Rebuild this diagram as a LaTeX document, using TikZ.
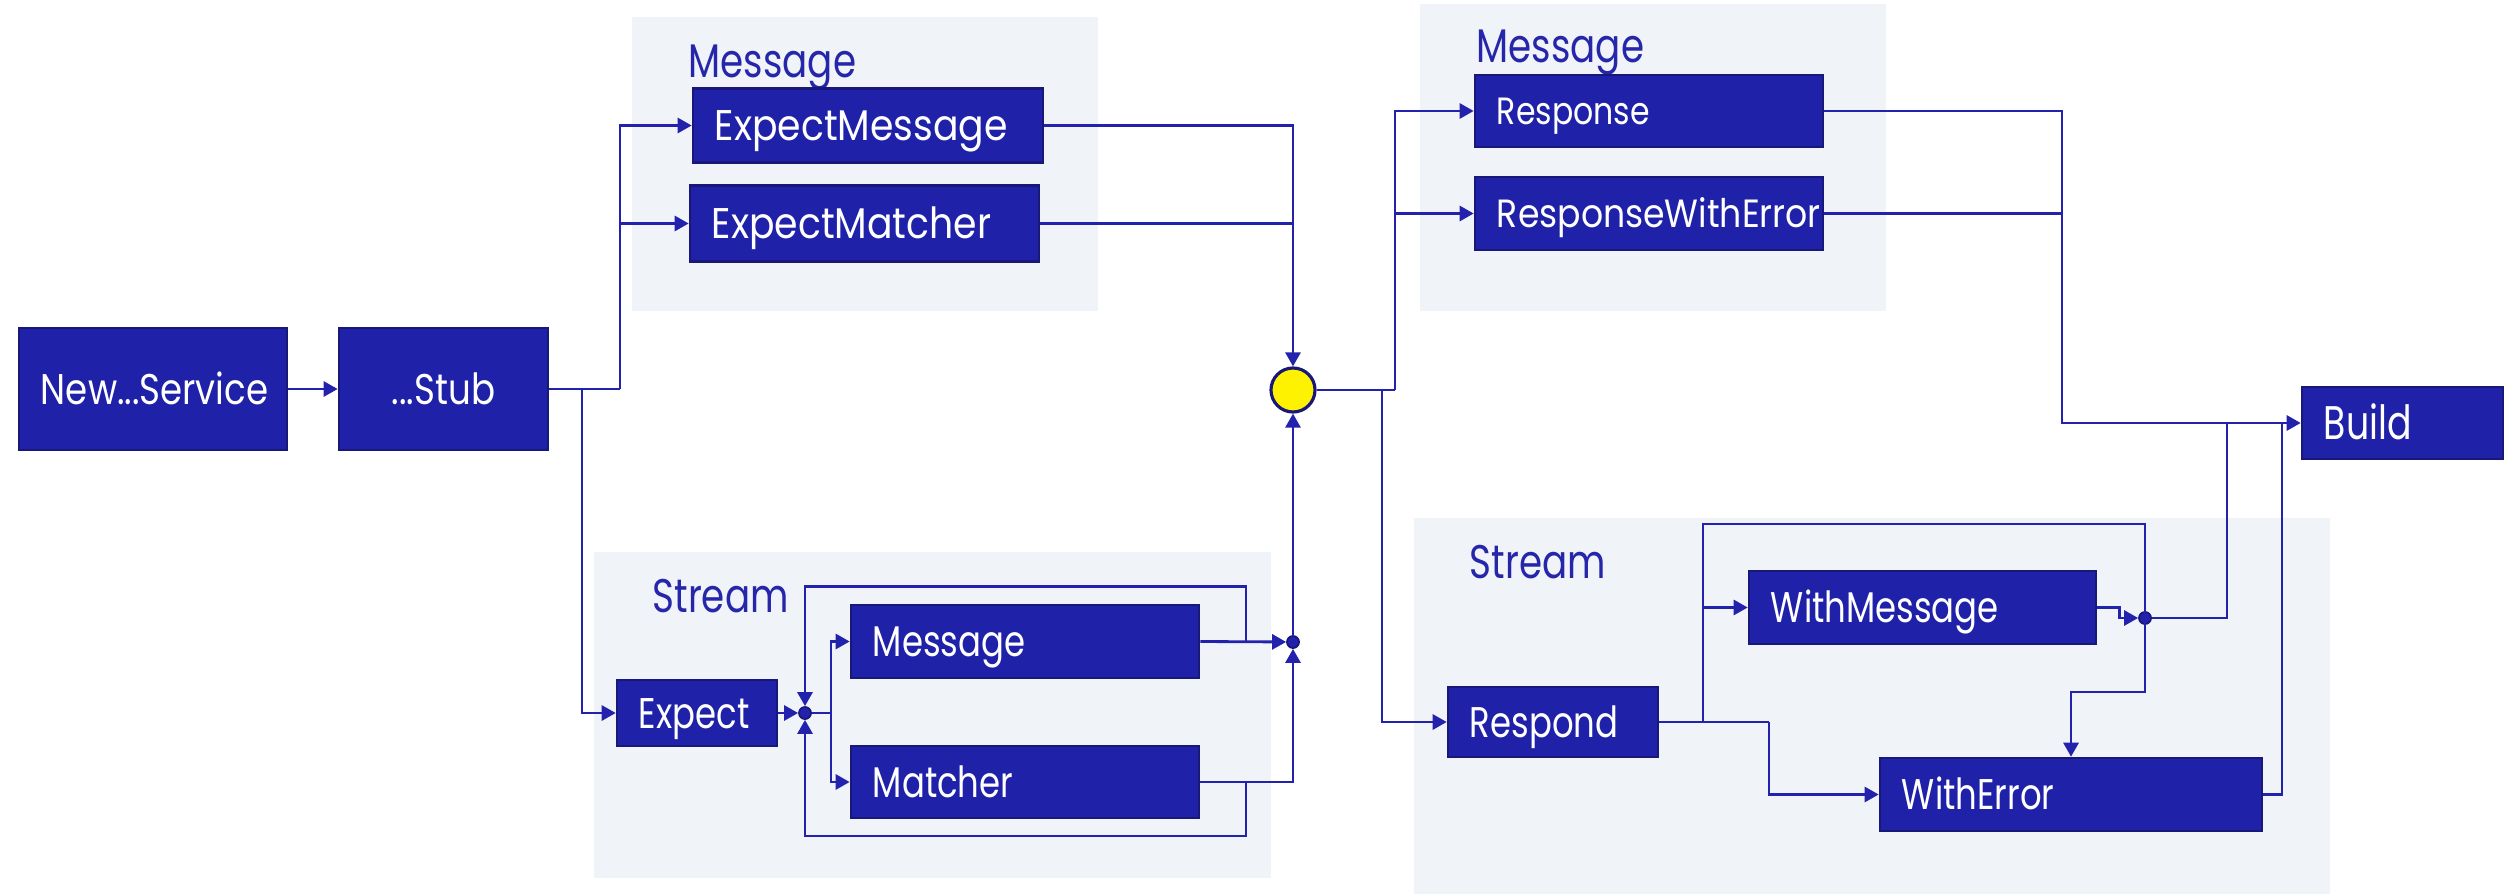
\documentclass[tikz,border=0pt]{standalone}
\usepackage{fontspec}
\usetikzlibrary{arrows.meta,calc}
\newfontfamily\geofont[FakeStretch=0.88]{Poppins}
\newfontfamily\geomid[FakeStretch=0.83]{Poppins}
\newfontfamily\geonarrow[FakeStretch=0.79]{Poppins}
\newfontfamily\geotight[FakeStretch=0.77]{Poppins}

\definecolor{boxfill}{RGB}{31,33,169}
\definecolor{boxline}{RGB}{24,24,120}
\definecolor{linecol}{RGB}{34,34,172}
\definecolor{labcol}{RGB}{38,38,170}
\definecolor{panel}{RGB}{240,243,247}

\tikzset{
  box/.style={draw=boxline, fill=boxfill, line width=0.7pt, text=white,
    font=\geonarrow\fontsize{12.2}{14}\selectfont, inner xsep=0.22cm, inner ysep=0pt,
    text height=0.30cm, text depth=0pt, align=left},
  cbox/.style={box, align=center, font=\geomid\fontsize{12.2}{14}\selectfont},
  grp/.style={fill=panel, draw=none},
  grplabel/.style={text=labcol, font=\geonarrow\fontsize{13.4}{15}\selectfont, anchor=base west, inner sep=0pt},
  conn/.style={draw=linecol, line width=0.8pt},
  flow/.style={conn, -{Triangle[length=0.14cm,width=0.15cm]}},
  joint/.style={circle, fill=linecol, draw=boxline, line width=0.5pt, minimum size=0.12cm, inner sep=0pt},
  hubstyle/.style={circle, fill=yellow, draw=boxline, line width=0.9pt, minimum size=0.44cm, inner sep=0pt},
}

\begin{document}
\begin{tikzpicture}[x=0.01cm,y=-0.01cm]
\useasboundingbox (0,0) rectangle (2509,894);

% group panels
\fill[grp] (632,17) rectangle (1098,311);
\fill[grp] (594,552) rectangle (1271,878);
\fill[grp] (1420,4) rectangle (1886,311);
\fill[grp] (1414,518) rectangle (2330,894);

\node[grplabel] (lblmsgA) at (688,78) {Message};
\node[grplabel] (lblstrA) at (652,612) {Stream};
\node[grplabel] (lblmsgB) at (1476,63) {Message};
\node[grplabel] (lblstrB) at (1469,578) {Stream};

% boxes
\node[cbox, text width=2.24cm, minimum height=1.22cm] (svc) at (153,389) {New...Service};
\node[cbox, text width=1.65cm, minimum height=1.22cm] (stub) at (443.5,389) {...Stub};
\node[box, text width=3.06cm, minimum height=0.74cm, font=\geofont\fontsize{12.2}{14}\selectfont] (expmsg) at (868,125.5) {ExpectMessage};
\node[box, text width=3.05cm, minimum height=0.76cm, font=\geofont\fontsize{12.2}{14}\selectfont] (expmat) at (864.5,223.5) {ExpectMatcher};
\node[box, text width=1.16cm, minimum height=0.66cm] (expect) at (697,713) {Expect};
\node[box, text width=3.04cm, minimum height=0.73cm] (smsg) at (1025,641.5) {Message};
\node[box, text width=3.04cm, minimum height=0.72cm] (smat) at (1025,782) {Matcher};
\node[box, text width=3.04cm, minimum height=0.72cm, font=\geomid\fontsize{10.8}{13}\selectfont, text height=0.27cm] (resp) at (1649,111) {Response};
\node[box, text width=3.04cm, minimum height=0.73cm, font=\geofont\fontsize{11.2}{13}\selectfont, text height=0.28cm] (resperr) at (1649,213.5) {ResponseWithError};
\node[box, text width=1.66cm, minimum height=0.70cm] (respond) at (1553,722) {Respond};
\node[box, text width=3.03cm, minimum height=0.73cm] (withmsg) at (1922.5,607.5) {WithMessage};
\node[box, text width=3.38cm, minimum height=0.73cm] (witherr) at (2071,794.5) {WithError};
\node[box, text width=1.57cm, minimum height=0.72cm, font=\geotight\fontsize{13.4}{15}\selectfont, text height=0.33cm] (build) at (2402.5,423) {Build};

% junctions
\node[hubstyle] (hub) at (1293,390) {};
\node[joint] (dotA) at (805,713) {};
\node[joint] (dotB) at (1293,642) {};
\node[joint] (dotC) at (2145,618) {};

% branch points
\coordinate (sUp) at (620,389);
\coordinate (sDn) at (582,389);
\coordinate (split) at (831,713);
\coordinate (loopT) at (1246,641.5);
\coordinate (loopB) at (1246,782);
\coordinate (hUp) at (1395,390);
\coordinate (hDn) at (1382,390);
\coordinate (bA) at (2062,423);
\coordinate (bB) at (2227,423);
\coordinate (bC) at (2282,423);
\coordinate (rA) at (1703,722);
\coordinate (rB) at (1769,722);
\coordinate (tA) at (2145,524);
\coordinate (tB) at (2145,692);

% left part
\draw[flow] (svc) -- (stub);
\draw[conn] (stub.east) -- (sUp);
\draw[flow] (sUp) |- (expmsg.west);
\draw[flow] (sUp) |- (expmat.west);
\draw[flow] (sDn) |- (expect.west);

% stream loop on the left
\draw[flow] (expect.east) -- (dotA);
\draw[conn] (dotA) -- (split);
\draw[flow] (split) |- (smsg.west);
\draw[flow] (split) |- (smat.west);
\draw[flow] (smsg.east) -- (dotB);
\draw[flow] (smat.east) -| (dotB);
\draw[flow] (loopT) -- ++(0,-55) -| (dotA);
\draw[flow] (loopB) -- ++(0,54) -| (dotA);

% into the hub
\draw[flow] (expmsg.east) -| (hub);
\draw[conn] (expmat.east) -- (expmat.east -| hub);
\draw[flow] (dotB) -- (hub);

% out of the hub
\draw[conn] (hub.east) -- (hUp);
\draw[flow] (hUp) |- (resp.west);
\draw[flow] (hUp) |- (resperr.west);
\draw[flow] (hDn) |- (respond.west);

% to build
\draw[flow] (resp.east) -| (bA) -- (build.west);
\draw[conn] (resperr.east) -- (resperr.east -| bA);

% stream part on the right
\draw[conn] (respond.east) -- (rB);
\draw[flow] (rA) |- (withmsg.west);
\draw[flow] (rA) |- (tA) -- (tB) -| (witherr.north);
\draw[flow] (rB) |- (witherr.west);
\draw[flow] (withmsg.east) -- ++(22,0) |- (dotC);
\draw[conn] (dotC) -| (bB);
\draw[conn] (witherr.east) -| (bC);
\end{tikzpicture}
\end{document}
